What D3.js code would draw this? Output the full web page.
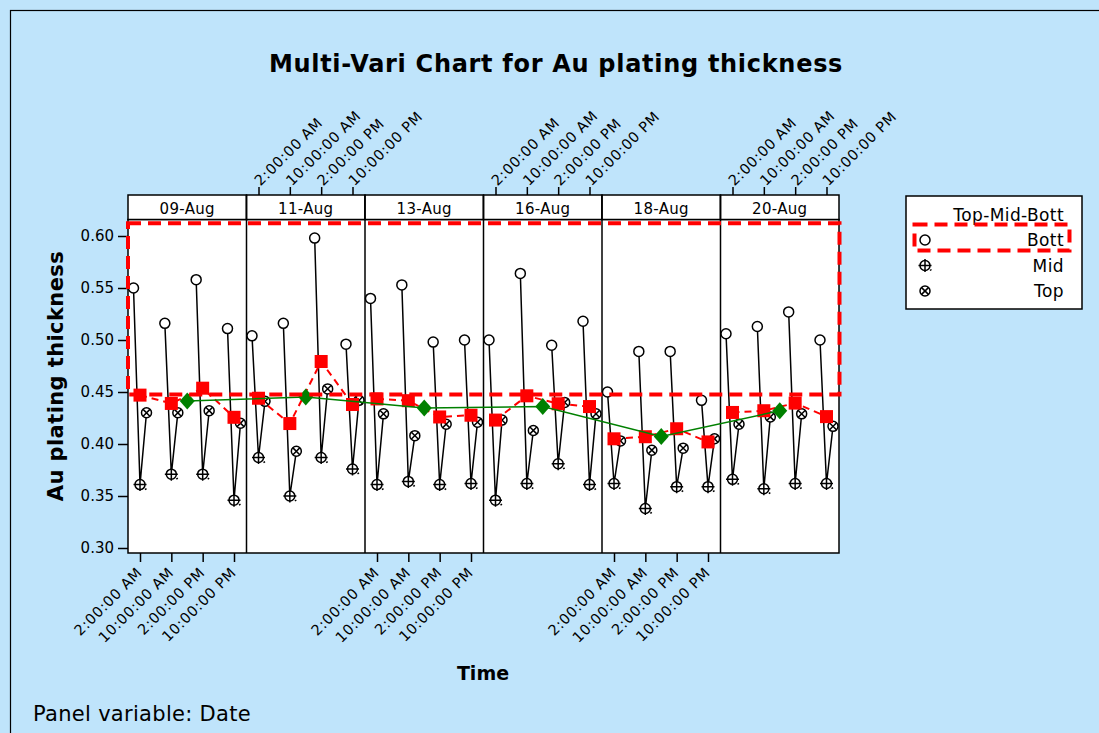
<!DOCTYPE html>
<html>
<head>
<meta charset="utf-8">
<script src="https://cdn.jsdelivr.net/npm/d3@7"></script>
<style>
  body { margin: 0; background: #bfe4fb; }
  text { font-family: "DejaVu Sans", sans-serif; fill: #000; }
</style>
</head>
<body>
<script>
// Data
const dates = ["09-Aug", "11-Aug", "13-Aug", "16-Aug", "18-Aug", "20-Aug"];
const times = ["2:00:00 AM", "10:00:00 AM", "2:00:00 PM", "10:00:00 PM"];
const positions = ["Bott", "Mid", "Top"];

// one row per date, one value per time
const bottVals = [
  [0.550, 0.516, 0.558, 0.511],
  [0.504, 0.516, 0.598, 0.496],
  [0.540, 0.553, 0.498, 0.500],
  [0.500, 0.564, 0.495, 0.518],
  [0.450, 0.489, 0.489, 0.442],
  [0.506, 0.513, 0.527, 0.500]
];
const midVals = [
  [0.361, 0.371, 0.371, 0.346],
  [0.387, 0.350, 0.387, 0.376],
  [0.361, 0.364, 0.361, 0.362],
  [0.346, 0.362, 0.381, 0.361],
  [0.362, 0.338, 0.359, 0.359],
  [0.366, 0.357, 0.362, 0.362]
];
const topVals = [
  [0.430, 0.430, 0.432, 0.420],
  [0.441, 0.393, 0.453, 0.442],
  [0.429, 0.408, 0.419, 0.421],
  [0.423, 0.413, 0.440, 0.429],
  [0.403, 0.394, 0.396, 0.405],
  [0.419, 0.426, 0.429, 0.417]
];
const yTicks = [0.30, 0.35, 0.40, 0.45, 0.50, 0.55, 0.60];

// Build records
const rows = [];
dates.forEach((d, i) => {
  times.forEach((t, j) => {
    rows.push({ date: d, time: t, Bott: bottVals[i][j], Mid: midVals[i][j], Top: topVals[i][j] });
  });
});
rows.forEach(r => r.mean = d3.mean(positions, p => r[p]));
const dateMeans = dates.map(d => ({
  date: d,
  mean: d3.mean(rows.filter(r => r.date === d), r => r.mean)
}));

const width = 1099, height = 733;
const svg = d3.select("body").append("svg")
  .attr("width", width)
  .attr("height", height);

// page background + frame
svg.append("rect").attr("width", width).attr("height", height).attr("fill", "#bfe4fb");
svg.append("rect")
  .attr("x", 10.5).attr("y", 10.5)
  .attr("width", 1200).attr("height", 900)
  .attr("fill", "none").attr("stroke", "#000").attr("stroke-width", 1.2);

// Scales
const plotTop = 219.5, plotBottom = 553, stripTop = 195;
const panel = d3.scaleBand().domain(dates).range([128, 839]);
const tx = d3.scalePoint().domain(times).range([12, 106]);
const px = d3.scalePoint().domain(positions).range([-6.5, 6.5]);
const y = d3.scaleLinear().domain([0.30, 0.60]).range([548, 236]);
const xOf = r => panel(r.date) + tx(r.time);

// Title
svg.append("text")
  .attr("x", 556).attr("y", 72)
  .attr("text-anchor", "middle")
  .style("font-size", "24px")
  .style("font-weight", "bold")
  .style("letter-spacing", "0.7px")
  .text("Multi-Vari Chart for Au plating thickness");

// Plot area
svg.append("rect")
  .attr("x", 128).attr("y", plotTop)
  .attr("width", 711).attr("height", plotBottom - plotTop)
  .attr("fill", "#fff").attr("stroke", "#000").attr("stroke-width", 1.5);

// Strips
const strip = svg.append("g");
strip.selectAll("rect")
  .data(dates)
  .join("rect")
  .attr("x", d => panel(d))
  .attr("y", stripTop)
  .attr("width", panel.bandwidth())
  .attr("height", plotTop - stripTop)
  .attr("fill", "#fff")
  .attr("stroke", "#000")
  .attr("stroke-width", 1.5);
strip.selectAll("text")
  .data(dates)
  .join("text")
  .attr("x", d => panel(d) + panel.bandwidth() / 2)
  .attr("y", 214)
  .attr("text-anchor", "middle")
  .style("font-size", "15px")
  .style("letter-spacing", "0.3px")
  .text(d => d);

// panel separators
svg.append("g").selectAll("line")
  .data(dates.slice(1))
  .join("line")
  .attr("x1", d => panel(d)).attr("x2", d => panel(d))
  .attr("y1", stripTop).attr("y2", plotBottom)
  .attr("stroke", "#000").attr("stroke-width", 1.5);

// Y axis
const yAxis = svg.append("g")
  .attr("transform", "translate(128,0)")
  .call(d3.axisLeft(y).tickValues(yTicks).tickFormat(d3.format(".2f")).tickSize(10).tickPadding(4));
yAxis.select(".domain").remove();
yAxis.selectAll(".tick line").attr("stroke-width", 1.5);
yAxis.selectAll("text").style("font-size", "15px").style("font-family", "DejaVu Sans");

// Time axes: bottom for odd panels, top for even panels
dates.forEach((d, i) => {
  const s = d3.scalePoint().domain(times).range([panel(d) + tx.range()[0], panel(d) + tx.range()[1]]);
  if (i % 2 === 0) {
    const ax = svg.append("g")
      .attr("transform", `translate(0,${plotBottom})`)
      .call(d3.axisBottom(s).tickSize(9));
    ax.select(".domain").remove();
    ax.selectAll(".tick line").attr("stroke-width", 1.5);
    ax.selectAll("text")
      .attr("x", 0).attr("y", 0).attr("dy", "0.35em")
      .attr("text-anchor", "end")
      .attr("transform", "translate(-1,17) rotate(-45)")
      .style("font-size", "14.5px")
      .style("font-family", "DejaVu Sans")
      .style("letter-spacing", "0.6px");
  } else {
    const ax = svg.append("g")
      .attr("transform", `translate(0,${stripTop})`)
      .call(d3.axisTop(s).tickSize(8));
    ax.select(".domain").remove();
    ax.selectAll(".tick line").attr("stroke-width", 1.5);
    ax.selectAll("text")
      .attr("x", 0).attr("y", 0).attr("dy", "0.35em")
      .attr("text-anchor", "start")
      .attr("transform", "translate(-2,-12) rotate(-45)")
      .style("font-size", "14.5px")
      .style("font-family", "DejaVu Sans")
      .style("letter-spacing", "0.6px");
  }
});

// Axis titles
svg.append("text")
  .attr("transform", "translate(63,376) rotate(-90)")
  .attr("text-anchor", "middle")
  .style("font-size", "21px")
  .style("font-weight", "bold")
  .style("letter-spacing", "0.4px")
  .text("Au plating thickness");

svg.append("text")
  .attr("x", 483).attr("y", 680)
  .attr("text-anchor", "middle")
  .style("font-size", "19px")
  .style("font-weight", "bold")
  .text("Time");

svg.append("text")
  .attr("x", 33).attr("y", 721)
  .style("font-size", "21px")
  .style("letter-spacing", "0.3px")
  .text("Panel variable: Date");

// Black connecting lines Bott -> Mid -> Top
const marks = svg.append("g");
marks.selectAll("path.conn")
  .data(rows)
  .join("path")
  .attr("class", "conn")
  .attr("d", r => d3.line()(positions.map(p => [xOf(r) + px(p), y(r[p])])))
  .attr("fill", "none")
  .attr("stroke", "#000")
  .attr("stroke-width", 1.5);

// symbols
function drawSymbol(g, type) {
  g.append("circle").attr("r", 5).attr("fill", "#fff").attr("stroke", "#000").attr("stroke-width", 1.5);
  if (type === "Mid") {
    g.append("path").attr("d", "M-6.5,0H6.5M0,-6.5V6.5M5,5l1.5,-1")
      .attr("stroke", "#000").attr("stroke-width", 1.5).attr("fill", "none");
  } else if (type === "Top") {
    g.append("path").attr("d", "M-3.4,-3.4L3.4,3.4M-3.4,3.4L3.4,-3.4")
      .attr("stroke", "#000").attr("stroke-width", 1.5);
  }
}

const symbolData = rows.flatMap(r => positions.map(p => ({ r, p })));
marks.selectAll("g.sym")
  .data(symbolData)
  .join("g")
  .attr("class", "sym")
  .attr("transform", d => `translate(${xOf(d.r) + px(d.p)},${y(d.r[d.p])})`)
  .each(function (d) { drawSymbol(d3.select(this), d.p); });

// Red dashed lines between time means (within a panel)
const meanLine = d3.line().x(r => xOf(r)).y(r => y(r.mean));
svg.append("g").selectAll("path")
  .data(dates.map(d => rows.filter(r => r.date === d)))
  .join("path")
  .attr("d", meanLine)
  .attr("fill", "none")
  .attr("stroke", "#ff0000")
  .attr("stroke-width", 2)
  .attr("stroke-dasharray", "7,5");

svg.append("g").selectAll("rect")
  .data(rows)
  .join("rect")
  .attr("x", r => xOf(r) - 6.5)
  .attr("y", r => y(r.mean) - 6.5)
  .attr("width", 13).attr("height", 13)
  .attr("fill", "#ff0000");

// Green line through date means
const dateX = d => panel(d.date) + panel.bandwidth() / 2;
svg.append("path")
  .datum(dateMeans)
  .attr("d", d3.line().x(dateX).y(d => y(d.mean)))
  .attr("fill", "none")
  .attr("stroke", "#008000")
  .attr("stroke-width", 1.5);
svg.append("g").selectAll("path")
  .data(dateMeans)
  .join("path")
  .attr("transform", d => `translate(${dateX(d)},${y(d.mean)})`)
  .attr("d", "M0,-8.5L7.5,0L0,8.5L-7.5,0Z")
  .attr("fill", "#008000");

// Red dashed annotation box
svg.append("rect")
  .attr("x", 128).attr("y", y(0.6122))
  .attr("width", 711.5).attr("height", y(0.4475) - y(0.6122))
  .attr("fill", "none")
  .attr("stroke", "#ff0000")
  .attr("stroke-width", 4)
  .attr("stroke-dasharray", "13,7");

// Legend
const legend = svg.append("g").attr("transform", "translate(906,196)");
legend.append("rect")
  .attr("width", 176).attr("height", 113)
  .attr("fill", "#fff").attr("stroke", "#000").attr("stroke-width", 1.5);
legend.append("text")
  .attr("x", 158).attr("y", 25)
  .attr("text-anchor", "end")
  .style("font-size", "17px")
  .style("letter-spacing", "0.4px")
  .text("Top-Mid-Bott");
const legendRows = legend.selectAll("g.item")
  .data(positions)
  .join("g")
  .attr("class", "item")
  .attr("transform", (d, i) => `translate(0,${44 + i * 25.5})`);
legendRows.append("g")
  .attr("transform", "translate(19,0)")
  .each(function (d) { drawSymbol(d3.select(this), d); });
legendRows.append("text")
  .attr("x", 158).attr("y", 6)
  .attr("text-anchor", "end")
  .style("font-size", "17px")
  .style("letter-spacing", "0.4px")
  .text(d => d);
legend.append("rect")
  .attr("x", 8.5).attr("y", 28.5)
  .attr("width", 155).attr("height", 26)
  .attr("fill", "none")
  .attr("stroke", "#ff0000")
  .attr("stroke-width", 4)
  .attr("stroke-dasharray", "13,7");
</script>
</body>
</html>
